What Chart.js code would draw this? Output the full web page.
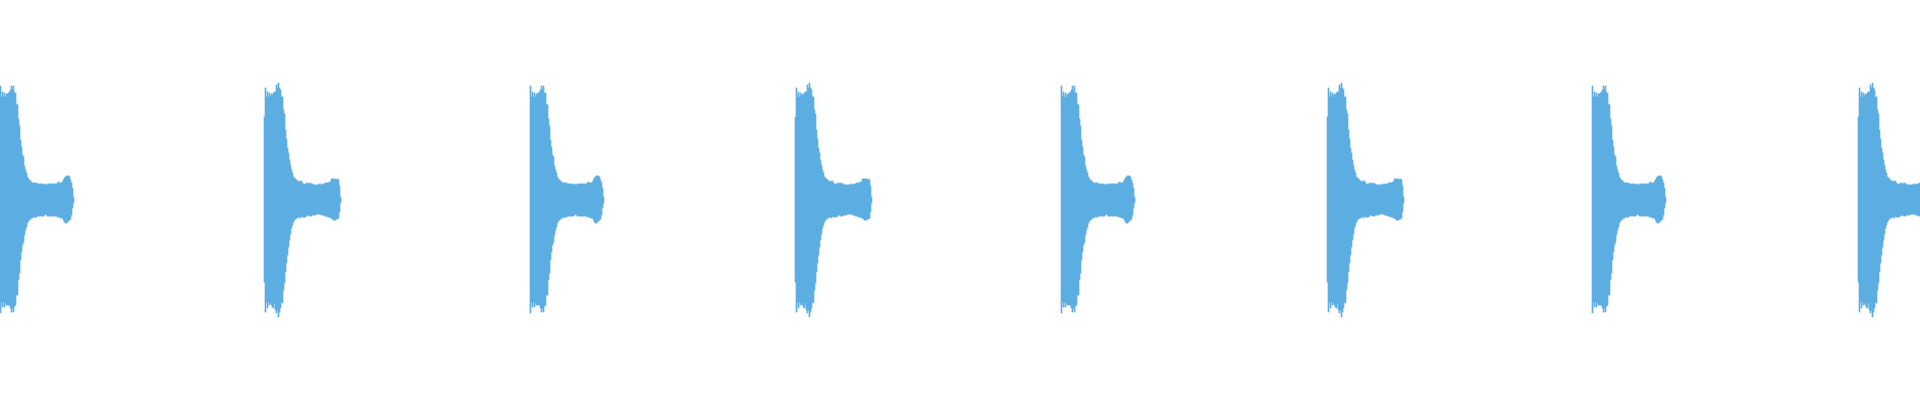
<!DOCTYPE html>
<html>
<head>
<meta charset="utf-8">
<style>
  html, body { margin: 0; padding: 0; background: #ffffff; }
  #wrap { width: 1920px; height: 400px; }
</style>
<script src="https://cdn.jsdelivr.net/npm/chart.js@4.4.1/dist/chart.umd.min.js"></script>
</head>
<body>
<div id="wrap"><canvas id="wave"></canvas></div>
<script>
// Waveform: 8 repeated bursts, one column per time bin
const binCount = 1920;

// burst onsets (time bins) and which envelope each one uses
const burstStarts = [0, 264, 530, 795, 1061, 1327, 1592, 1858];
const burstShape = ["A", "B", "A", "B", "A", "B", "A", "B"];

// envelope A - upper / lower level per bin (read from 1st burst)
const upperA = [114,103,108,103,107,103,106,106,107,108,110,114,110,114,107,107,
                96,95,81,74,60,53,45,43,34,30,27,23,21,20,19,18,
                17,17,17,17,17,16,16,16,16,16,16,15,16,15,15,16,
                16,16,16,16,16,16,16,16,16,17,18,17,17,17,18,20,
                22,23,24,24,24,23,20,17,12,3];
const lowerA = [113,102,107,102,107,103,105,105,105,105,108,112,108,112,106,105,
                95,95,80,73,60,52,45,42,35,30,27,23,21,20,19,18,
                18,17,17,17,17,16,16,16,16,16,16,16,15,14,15,16,
                16,16,16,16,16,16,16,16,16,17,17,17,18,18,18,20,
                22,23,23,22,21,20,19,15,8,3];

// envelope B - upper / lower level per bin (read from 2nd burst)
const upperB = [83,112,103,108,103,107,104,106,105,107,108,108,115,112,117,112,
                110,103,103,90,86,70,61,52,47,40,35,30,27,23,22,21,
                20,19,18,19,18,19,17,16,15,16,17,16,17,16,17,16,
                16,15,15,15,15,15,15,16,15,16,15,16,16,17,17,17,
                17,18,18,21,21,21,21,21,20,21,20,14,3];
const lowerB = [82,112,102,108,102,105,103,105,107,108,103,110,113,110,117,112,
                108,102,103,90,83,72,63,55,47,40,34,28,25,22,20,19,
                18,18,17,17,18,16,17,17,17,17,16,15,15,16,16,16,
                15,15,15,15,14,14,14,14,14,15,15,15,16,16,16,17,
                17,17,18,18,19,20,20,20,19,19,18,12,3];

const levelMax = 200;
const waveColor = "#5dade2";

// build columns
const labels = [];
const columns = [];
for (let i = 0; i < binCount; i++) {
    labels.push(i);
    columns.push(null);
}
burstStarts.forEach((start, b) => {
    const up = burstShape[b] === "A" ? upperA : upperB;
    const lo = burstShape[b] === "A" ? lowerA : lowerB;
    for (let k = 0; k < up.length; k++) {
        const bin = start + k;
        if (bin >= 0 && bin < binCount) {
            columns[bin] = [-lo[k], up[k]];
        }
    }
});

new Chart(document.getElementById("wave"), {
    type: "bar",
    data: {
        labels: labels,
        datasets: [{
            data: columns,
            backgroundColor: waveColor,
            borderWidth: 0,
            barPercentage: 1,
            categoryPercentage: 1
        }]
    },
    options: {
        responsive: true,
        maintainAspectRatio: false,
        animation: false,
        layout: { padding: 0 },
        plugins: {
            legend: { display: false },
            tooltip: { enabled: false }
        },
        scales: {
            x: { display: false },
            y: { display: false, min: -levelMax, max: levelMax }
        }
    }
});
</script>
</body>
</html>
